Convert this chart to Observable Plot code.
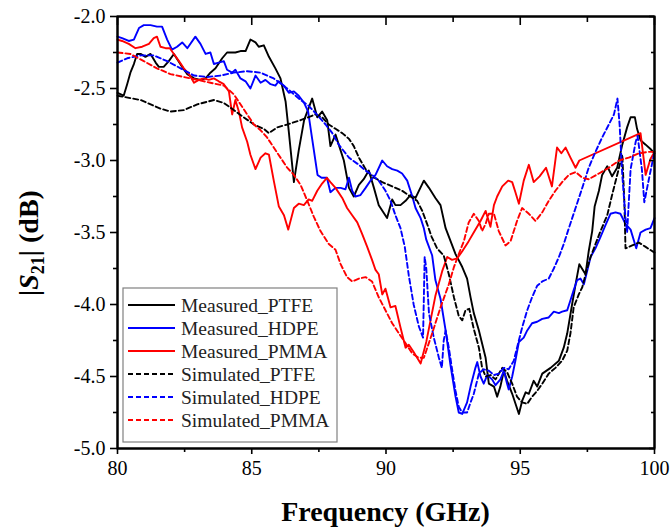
<!DOCTYPE html>
<html><head><meta charset="utf-8">
<script src="https://cdn.jsdelivr.net/npm/d3@7"></script>
<script src="https://cdn.jsdelivr.net/npm/@observablehq/plot@0.6"></script>
<style>body{margin:0;background:#fff} svg{display:block}</style>
</head><body><div id="chart"></div>
<script>
// ---- axes ----
const xMajor = [80, 85, 90, 95, 100];
const xMinor = [82.5, 87.5, 92.5, 97.5];
const yMajor = [-5, -4.5, -4, -3.5, -3, -2.5, -2];
const yMinor = [-4.75, -4.25, -3.75, -3.25, -2.75, -2.25];

// ---- series meta ----
const seriesNames = ["Measured_PTFE", "Measured_HDPE", "Measured_PMMA", "Simulated_PTFE", "Simulated_HDPE", "Simulated_PMMA"];
const seriesColors = ["#000000", "#0000ff", "#ff0000", "#000000", "#0000ff", "#ff0000"];
const seriesDashed = [false, false, false, true, true, true];

// ---- Measured PTFE ----
const measPtfeF = [80.0,80.23,80.36,80.48,80.61,80.73,80.86,81.04,81.23,81.42,81.54,81.72,81.91,82.1,82.41,82.6,82.85,83.09,83.28,83.46,83.65,83.9,84.08,84.39,84.58,84.77,84.95,85.14,85.26,85.45,85.64,85.88,86.07,86.26,86.38,86.57,86.75,86.95,87.25,87.44,87.62,87.81,87.93,88.12,88.24,88.43,88.62,88.8,88.99,89.17,89.36,89.55,89.73,90.04,90.23,90.35,90.54,90.73,90.91,91.1,91.41,91.6,91.84,92.03,92.22,92.59,92.84,93.02,93.15,93.27,93.46,93.71,93.83,94.02,94.14,94.26,94.39,94.51,94.7,94.95,95.07,95.2,95.32,95.5,95.63,95.82,96.13,96.44,96.62,96.75,96.93,97.06,97.2,97.43,97.55,97.68,97.77,97.93,98.05,98.24,98.42,98.61,98.8,98.98,99.11,99.27,99.35,99.48,99.67,99.85,100];
const measPtfeV = [-2.53,-2.55,-2.47,-2.39,-2.33,-2.26,-2.26,-2.28,-2.26,-2.32,-2.35,-2.35,-2.31,-2.26,-2.35,-2.40,-2.43,-2.44,-2.43,-2.39,-2.36,-2.29,-2.25,-2.25,-2.24,-2.24,-2.16,-2.18,-2.21,-2.20,-2.28,-2.36,-2.43,-2.59,-2.80,-3.15,-2.93,-2.72,-2.57,-2.70,-2.66,-2.72,-2.90,-2.82,-2.89,-3.00,-3.19,-3.25,-3.17,-3.13,-3.07,-3.19,-3.31,-3.40,-3.27,-3.31,-3.31,-3.28,-3.24,-3.26,-3.14,-3.19,-3.26,-3.31,-3.47,-3.65,-3.74,-3.82,-3.95,-4.06,-4.18,-4.37,-4.55,-4.57,-4.64,-4.57,-4.46,-4.53,-4.62,-4.76,-4.67,-4.61,-4.62,-4.53,-4.57,-4.48,-4.44,-4.39,-4.30,-4.20,-4.00,-3.86,-3.72,-3.79,-3.63,-3.49,-3.32,-3.21,-3.10,-3.04,-3.11,-3.05,-2.89,-2.77,-2.70,-2.70,-2.78,-2.86,-2.89,-2.92,-2.95];

// ---- Measured HDPE ----
const measHdpeF = [80.0,80.17,80.42,80.61,80.8,80.98,81.23,81.47,81.66,81.85,82.03,82.22,82.41,82.6,82.9,83.09,83.28,83.46,83.59,83.77,83.96,84.08,84.27,84.39,84.58,84.77,84.95,85.14,85.33,85.51,85.7,85.88,86.0,86.2,86.38,86.57,86.75,86.95,87.1,87.25,87.45,87.6,87.8,87.93,88.12,88.31,88.49,88.62,88.74,88.86,89.05,89.24,89.42,89.61,89.86,90.04,90.23,90.42,90.6,90.79,90.98,91.1,91.29,91.41,91.5,91.72,91.84,92.03,92.22,92.4,92.59,92.71,92.84,93.02,93.15,93.33,93.4,93.52,93.64,93.77,93.95,94.08,94.26,94.39,94.51,94.57,94.7,94.82,94.95,95.13,95.26,95.44,95.63,95.82,96.06,96.25,96.44,96.56,96.75,96.87,96.99,97.12,97.24,97.37,97.49,97.62,97.8,97.99,98.17,98.36,98.55,98.73,98.92,99.11,99.32,99.48,99.67,99.85,100];
const measHdpeV = [-2.14,-2.15,-2.17,-2.16,-2.08,-2.06,-2.06,-2.07,-2.07,-2.16,-2.23,-2.21,-2.18,-2.22,-2.14,-2.19,-2.26,-2.25,-2.33,-2.32,-2.31,-2.37,-2.39,-2.37,-2.43,-2.45,-2.50,-2.41,-2.46,-2.44,-2.47,-2.48,-2.45,-2.48,-2.53,-2.52,-2.55,-2.60,-2.66,-2.85,-3.10,-3.12,-3.12,-3.22,-3.19,-3.19,-3.20,-3.12,-3.21,-3.25,-3.24,-3.19,-3.14,-3.10,-3.00,-3.04,-3.06,-3.07,-3.09,-3.14,-3.25,-3.33,-3.40,-3.47,-3.55,-3.66,-3.83,-3.96,-4.18,-4.42,-4.64,-4.75,-4.76,-4.68,-4.57,-4.44,-4.40,-4.50,-4.55,-4.49,-4.52,-4.56,-4.52,-4.46,-4.55,-4.59,-4.50,-4.39,-4.26,-4.23,-4.18,-4.13,-4.12,-4.10,-4.09,-4.05,-4.06,-4.05,-4.04,-3.97,-3.90,-3.83,-3.82,-3.86,-3.77,-3.67,-3.61,-3.53,-3.45,-3.37,-3.36,-3.37,-3.44,-3.48,-3.61,-3.50,-3.48,-3.47,-3.40];

// ---- Measured PMMA ----
const measPmmaF = [80.0,80.17,80.42,80.67,80.92,81.17,81.35,81.47,81.6,81.79,81.95,82.1,82.29,82.47,82.66,82.85,83.03,83.22,83.4,83.59,83.77,83.96,84.15,84.27,84.39,84.52,84.64,84.83,84.95,85.14,85.33,85.51,85.64,85.82,86.01,86.2,86.36,86.57,86.75,86.94,87.12,87.25,87.44,87.62,87.8,87.93,88.12,88.37,88.55,88.74,88.93,89.11,89.3,89.48,89.61,89.73,89.86,89.98,90.17,90.35,90.54,90.73,90.85,91.03,91.29,91.5,91.84,92.09,92.28,92.46,92.65,92.84,93.08,93.3,93.52,93.71,93.89,94.02,94.14,94.33,94.55,94.7,94.82,94.95,95.13,95.32,95.5,95.72,95.96,96.18,96.37,96.53,96.69,96.87,97.06,97.2,99.48,99.67,99.85,100];
const measPmmaV = [-2.16,-2.17,-2.19,-2.22,-2.21,-2.19,-2.15,-2.14,-2.21,-2.22,-2.22,-2.26,-2.31,-2.36,-2.40,-2.46,-2.44,-2.43,-2.44,-2.43,-2.45,-2.47,-2.52,-2.68,-2.58,-2.66,-2.77,-2.87,-2.96,-3.06,-2.98,-2.95,-2.96,-3.14,-3.32,-3.38,-3.48,-3.33,-3.30,-3.31,-3.27,-3.28,-3.21,-3.16,-3.12,-3.15,-3.19,-3.26,-3.33,-3.38,-3.43,-3.51,-3.60,-3.69,-3.76,-3.79,-3.93,-3.89,-4.02,-4.01,-4.16,-4.30,-4.28,-4.33,-4.41,-4.26,-3.94,-3.77,-3.67,-3.69,-3.68,-3.63,-3.56,-3.49,-3.42,-3.35,-3.46,-3.31,-3.25,-3.18,-3.14,-3.15,-3.22,-3.30,-3.14,-3.03,-3.15,-3.11,-3.05,-3.18,-2.91,-2.95,-2.91,-2.98,-3.05,-3.00,-2.81,-3.10,-2.99,-2.94];

// ---- Simulated PTFE ----
const simPtfeF = [80.0,80.86,81.6,81.97,82.47,82.97,83.59,83.96,84.33,84.7,85.08,85.45,85.64,85.95,86.32,86.82,87.1,87.37,87.62,87.87,88.12,88.37,88.62,88.8,88.99,89.24,89.48,89.86,90.23,90.6,90.91,91.16,91.35,91.53,91.7,91.9,92.15,92.34,92.53,92.71,92.84,92.96,93.1,93.27,93.46,93.58,93.71,93.89,94.08,94.33,94.51,94.7,94.88,95.07,95.26,95.44,95.63,95.82,96.06,96.31,96.56,96.75,96.87,96.99,97.18,97.31,97.49,97.62,97.8,97.99,98.24,98.42,98.61,98.8,98.88,98.92,99.17,99.42,99.67,100];
const simPtfeV = [-2.55,-2.58,-2.64,-2.66,-2.65,-2.61,-2.58,-2.60,-2.65,-2.70,-2.75,-2.78,-2.81,-2.77,-2.75,-2.72,-2.70,-2.68,-2.70,-2.75,-2.78,-2.81,-2.85,-2.90,-2.98,-3.06,-3.11,-3.15,-3.18,-3.21,-3.25,-3.28,-3.35,-3.44,-3.53,-3.61,-3.66,-3.79,-3.95,-4.08,-4.11,-4.04,-4.03,-4.17,-4.30,-4.44,-4.50,-4.49,-4.52,-4.44,-4.47,-4.55,-4.64,-4.68,-4.69,-4.64,-4.60,-4.55,-4.48,-4.44,-4.39,-4.32,-4.20,-4.02,-3.93,-3.88,-3.75,-3.67,-3.58,-3.49,-3.38,-3.24,-3.10,-2.96,-3.30,-3.61,-3.59,-3.57,-3.60,-3.64];

// ---- Simulated HDPE ----
const simHdpeF = [80.0,80.36,80.86,81.35,81.85,82.35,82.85,83.34,83.84,84.33,84.83,85.33,85.82,86.32,86.82,87.12,87.37,87.75,88.0,88.24,88.62,88.99,89.24,89.48,89.73,89.98,90.17,90.35,90.54,90.7,90.85,91.03,91.22,91.38,91.44,91.5,91.6,91.78,91.97,92.08,92.15,92.22,92.34,92.47,92.59,92.71,92.84,93.02,93.15,93.27,93.46,93.64,93.83,94.02,94.2,94.39,94.57,94.76,94.88,95.07,95.26,95.44,95.63,95.82,96.06,96.25,96.44,96.62,96.81,97.06,97.31,97.55,97.8,98.05,98.3,98.49,98.62,98.7,98.8,98.92,98.98,99.11,99.3,99.37,99.53,99.62,99.79,100];
const simHdpeV = [-2.32,-2.29,-2.27,-2.27,-2.31,-2.36,-2.41,-2.42,-2.41,-2.39,-2.38,-2.39,-2.43,-2.50,-2.58,-2.62,-2.67,-2.75,-2.81,-2.89,-2.98,-3.03,-3.07,-3.10,-3.14,-3.21,-3.28,-3.38,-3.47,-3.60,-3.80,-4.00,-4.15,-4.23,-3.67,-3.75,-4.06,-4.23,-4.37,-4.44,-4.25,-4.18,-4.30,-4.46,-4.60,-4.71,-4.75,-4.75,-4.68,-4.62,-4.48,-4.45,-4.46,-4.49,-4.48,-4.44,-4.45,-4.39,-4.30,-4.16,-4.04,-3.95,-3.87,-3.84,-3.82,-3.75,-3.67,-3.58,-3.47,-3.33,-3.19,-3.05,-2.94,-2.84,-2.75,-2.68,-2.57,-2.75,-3.10,-3.40,-3.50,-3.06,-2.87,-2.83,-3.06,-3.29,-3.13,-2.94];

// ---- Simulated PMMA ----
const simPmmaF = [80.0,80.48,80.98,81.47,81.97,82.47,82.97,83.46,83.96,84.33,84.58,84.83,85.08,85.33,85.57,85.82,86.07,86.32,86.57,86.82,87.07,87.31,87.56,87.87,88.12,88.31,88.55,88.74,88.99,89.24,89.48,89.73,89.98,90.23,90.48,90.73,90.98,91.22,91.41,91.72,92.03,92.34,92.53,92.71,92.9,93.08,93.27,93.46,93.58,93.71,93.83,94.02,94.2,94.45,94.64,94.88,95.07,95.32,95.57,95.82,96.06,96.31,96.56,96.81,97.06,97.31,97.55,97.93,98.3,98.68,99.04,99.42,99.79,100];
const simPmmaV = [-2.25,-2.26,-2.31,-2.36,-2.40,-2.42,-2.44,-2.46,-2.48,-2.54,-2.61,-2.68,-2.75,-2.79,-2.84,-2.91,-2.98,-3.05,-3.10,-3.17,-3.28,-3.39,-3.49,-3.58,-3.62,-3.72,-3.81,-3.84,-3.82,-3.81,-3.84,-3.95,-4.04,-4.13,-4.20,-4.27,-4.34,-4.37,-4.37,-4.20,-4.02,-3.86,-3.74,-3.65,-3.56,-3.43,-3.37,-3.42,-3.49,-3.44,-3.37,-3.37,-3.49,-3.59,-3.56,-3.42,-3.33,-3.37,-3.42,-3.36,-3.28,-3.21,-3.15,-3.10,-3.08,-3.12,-3.13,-3.09,-3.05,-3.00,-2.98,-2.95,-2.94,-2.94];

const seriesF = [measPtfeF, measHdpeF, measPmmaF, simPtfeF, simHdpeF, simPmmaF];
const seriesV = [measPtfeV, measHdpeV, measPmmaV, simPtfeV, simHdpeV, simPmmaV];

const FONT = "'Liberation Serif', 'Times New Roman', serif";
const dash = "5,3";

const lineMarks = seriesNames.map((name, i) => {
  const data = seriesF[i].map((f, j) => ({f, v: seriesV[i][j]}));
  const opts = {x: "f", y: "v", stroke: seriesColors[i], strokeWidth: 1.9};
  if (seriesDashed[i]) opts.strokeDasharray = dash;
  return Plot.line(data, opts);
});

const xEdges = [xMajor[0], xMajor[xMajor.length - 1]];
const yEdges = [yMajor[0], yMajor[yMajor.length - 1]];

const svg = Plot.plot({
  width: 670, height: 531,
  marginLeft: 117, marginRight: 16, marginTop: 16, marginBottom: 83,
  style: {fontFamily: FONT},
  x: {domain: xEdges},
  y: {domain: yEdges},
  marks: [
    ...lineMarks,
    Plot.ruleX(xEdges, {stroke: "#000", strokeWidth: 2}),
    Plot.ruleY(yEdges, {stroke: "#000", strokeWidth: 2}),
    Plot.axisY({ticks: yMajor, anchor: "left", tickSize: 7, tickPadding: 5, tickFormat: d => d.toFixed(1), label: null, stroke: "#000", strokeWidth: 1.6, fontSize: 20}),
    Plot.axisY({ticks: yMinor, anchor: "left", tickSize: 4, text: null, label: null, stroke: "#000", strokeWidth: 1.6}),
    Plot.axisY({ticks: yMajor, anchor: "right", tickSize: -6, text: null, label: null, stroke: "#000", strokeWidth: 1.6}),
    Plot.axisY({ticks: yMinor, anchor: "right", tickSize: -4, text: null, label: null, stroke: "#000", strokeWidth: 1.6}),
    Plot.axisX({ticks: xMajor, anchor: "bottom", tickSize: 6, tickPadding: 6, tickFormat: d => String(d), label: null, stroke: "#000", strokeWidth: 1.6, fontSize: 20}),
    Plot.axisX({ticks: xMinor, anchor: "bottom", tickSize: 4, text: null, label: null, stroke: "#000", strokeWidth: 1.6}),
    Plot.axisX({ticks: xMajor, anchor: "top", tickSize: -8, text: null, label: null, stroke: "#000", strokeWidth: 1.6}),
    Plot.axisX({ticks: xMinor, anchor: "top", tickSize: -5, text: null, label: null, stroke: "#000", strokeWidth: 1.6}),
    Plot.frame({stroke: "#000", strokeWidth: 2})
  ]
});

const s = d3.select(svg);

// x label
s.append("text")
  .attr("x", 385.5).attr("y", 521)
  .attr("text-anchor", "middle")
  .attr("font-family", FONT).attr("font-weight", "bold").attr("font-size", 28)
  .attr("fill", "#000")
  .text("Frequency (GHz)");

// y label
const yl = s.append("text")
  .attr("transform", "translate(38,243) rotate(-90)")
  .attr("text-anchor", "middle")
  .attr("font-family", FONT).attr("font-weight", "bold").attr("font-size", 28)
  .attr("fill", "#000");
yl.append("tspan").text("|");
yl.append("tspan").attr("font-style", "italic").text("S");
yl.append("tspan").attr("font-size", 18).attr("dy", 6).text("21");
yl.append("tspan").attr("dy", -6).text("| (dB)");

// legend
const lg = s.append("g");
lg.append("rect").attr("x", 123).attr("y", 288).attr("width", 214).attr("height", 154)
  .attr("fill", "#fff").attr("stroke", "#808080").attr("stroke-width", 1.2);
seriesNames.forEach((name, i) => {
  const yy = 305 + i * 23;
  const ln = lg.append("line").attr("x1", 128).attr("x2", 175).attr("y1", yy).attr("y2", yy)
    .attr("stroke", seriesColors[i]).attr("stroke-width", 1.9);
  if (seriesDashed[i]) ln.attr("stroke-dasharray", dash);
  lg.append("text").attr("x", 181).attr("y", yy + 6.5)
    .attr("text-anchor", "start")
    .attr("font-family", FONT).attr("font-size", 19.5).attr("fill", "#222")
    .text(name);
});

document.getElementById("chart").appendChild(svg);
</script>
</body></html>
